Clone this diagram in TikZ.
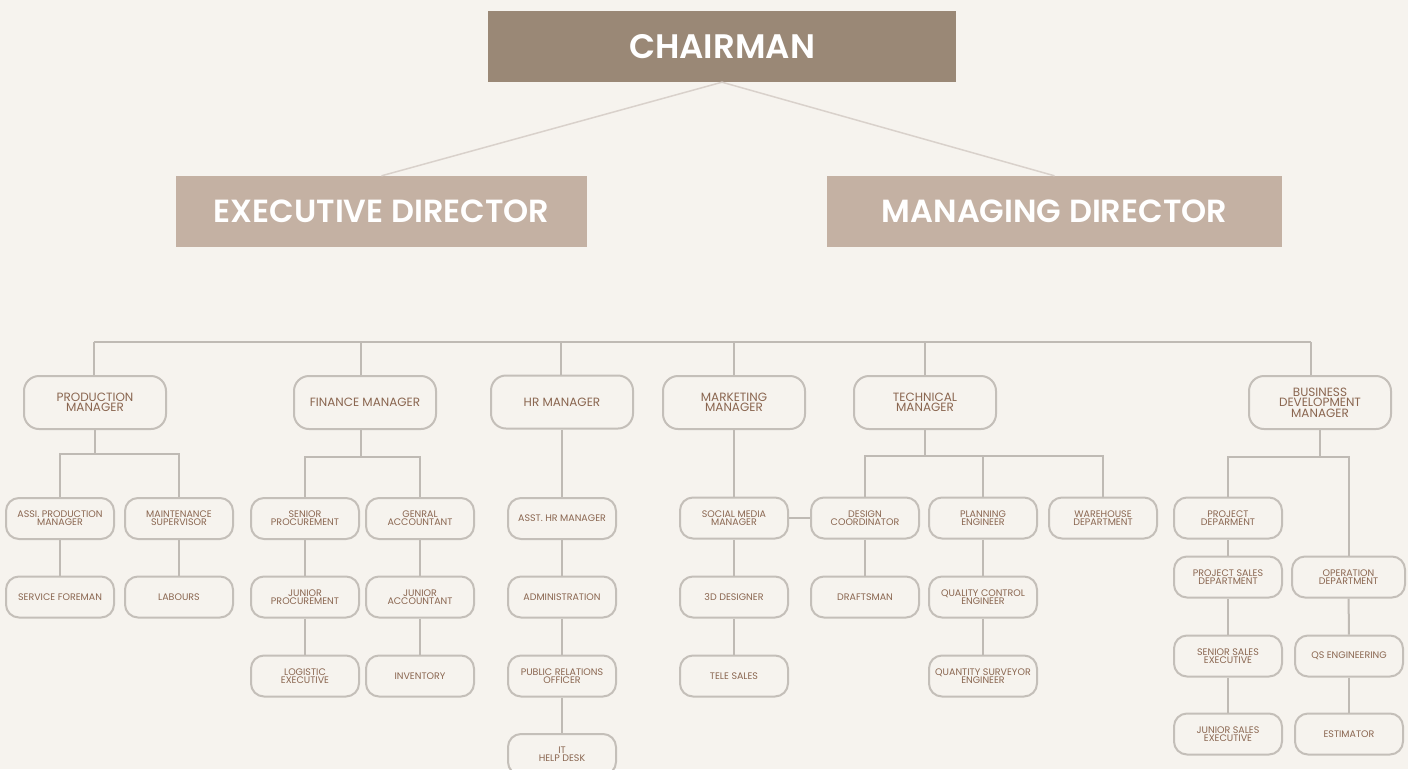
\documentclass[tikz,border=0pt]{standalone}
\usepackage{fontspec}
\setmainfont{Poppins}
\newfontfamily\headfont{Poppins SemiBold}
\definecolor{paper}{HTML}{F6F3EE}
\definecolor{chairbrown}{HTML}{9A8876}
\definecolor{dirbrown}{HTML}{C4B1A3}
\definecolor{labelbrown}{HTML}{8A6650}
\definecolor{boxline}{HTML}{C4BFB9}
\definecolor{linegray}{HTML}{BFBAB4}
\definecolor{toplinegray}{HTML}{D9D1CB}

\tikzset{
  head/.style={fill=#1, text=white, inner sep=0pt, align=center},
  mgr/.style={draw=boxline, line width=2pt, rounded corners=15pt, minimum width=142pt,
    minimum height=53pt, inner sep=0pt, align=center, text=labelbrown,
    font=\fontsize{12}{10.5}\selectfont},
  role/.style={mgr, rounded corners=13pt, minimum width=108pt, minimum height=41pt,
    font=\fontsize{9.5}{8}\selectfont},
  link/.style={draw=linegray, line width=2pt},
  toplink/.style={draw=toplinegray, line width=1.5pt}
}

\begin{document}
\begin{tikzpicture}[x=1pt,y=-1pt]
    \fill[paper] (0,0) rectangle (1408,769);
    \useasboundingbox (0,0) rectangle (1408,769);

    % top of the chart
    \node[head=chairbrown, minimum width=468pt, minimum height=71pt,
      font=\headfont\fontsize{34}{34}\selectfont] (chair) at (722,46.5) {CHAIRMAN};
    \node[head=dirbrown, minimum width=411pt, minimum height=71pt,
      font=\headfont\fontsize{32}{32}\selectfont] (exec) at (381.5,211.5) {EXECUTIVE DIRECTOR};
    \node[head=dirbrown, minimum width=455pt, minimum height=71pt,
      font=\headfont\fontsize{32}{32}\selectfont] (md) at (1054.5,211.5) {MANAGING DIRECTOR};
    \draw[toplink] (chair.south) -- (exec.north);
    \draw[toplink] (chair.south) -- (md.north);

    % managers
    \node[mgr] (prod) at (95,402.5) {PRODUCTION\\MANAGER};
    \node[mgr] (fin) at (365,402.5) {FINANCE MANAGER};
    \node[mgr] (hr) at (562,402) {HR MANAGER};
    \node[mgr] (mkt) at (734,402.5) {MARKETING\\MANAGER};
    \node[mgr] (tech) at (925,402.5) {TECHNICAL\\MANAGER};
    \node[mgr] (bdm) at (1320,402.5) {BUSINESS\\DEVELOPMENT\\MANAGER};

    \coordinate (busL) at (94,342);
    \coordinate (busR) at (1311,342);
    \draw[link] (busL) -- (busR);
    \foreach \m/\dx in {prod/-1, fin/-4, hr/-1, mkt/0, tech/0, bdm/-9}
      \draw[link] ([xshift=\dx pt]\m.north) -- ([xshift=\dx pt]\m.north |- busL);

    % production
    \node[role] (asspm) at (60,518.5) {ASSI. PRODUCTION\\MANAGER};
    \node[role] (maint) at (179,518.5) {MAINTENANCE\\SUPERVISOR};
    \node[role] (foreman) at (60,597) {SERVICE FOREMAN};
    \node[role] (labours) at (179,597) {LABOURS};
    \coordinate (prodfork) at ([yshift=-24pt]prod.south);
    \draw[link] (prod.south) -- (prodfork);
    \draw[link] (asspm.north) |- (prodfork) -| (maint.north);
    \draw[link] (asspm) -- (foreman);
    \draw[link] (maint) -- (labours);

    % finance
    \node[role] (srproc) at (305,518.5) {SENIOR\\PROCUREMENT};
    \node[role] (genacc) at (420,518.5) {GENRAL\\ACCOUNTANT};
    \node[role] (jrproc) at (305,597) {JUNIOR\\PROCUREMENT};
    \node[role] (jracc) at (420,597) {JUNIOR\\ACCOUNTANT};
    \node[role] (logistic) at (305,676) {LOGISTIC\\EXECUTIVE};
    \node[role] (inventory) at (420,676) {INVENTORY};
    \coordinate (finfork) at ([xshift=-4pt,yshift=-27pt]fin.south);
    \draw[link] ([xshift=-4pt]fin.south) -- (finfork);
    \draw[link] (srproc.north) |- (finfork) -| (genacc.north);
    \draw[link] (srproc) -- (jrproc);
    \draw[link] (jrproc) -- (logistic);
    \draw[link] (genacc) -- (jracc);
    \draw[link] (jracc) -- (inventory);

    % hr
    \node[role] (asthr) at (562,518.5) {ASST. HR MANAGER};
    \node[role] (admin) at (562,597) {ADMINISTRATION};
    \node[role] (pro) at (562,676) {PUBLIC RELATIONS\\OFFICER};
    \node[role] (it) at (562,754.5) {IT\\HELP DESK};
    \draw[link] (hr) -- (asthr);
    \draw[link] (asthr) -- (admin);
    \draw[link] (admin) -- (pro);
    \draw[link] (pro) -- (it);

    % marketing
    \node[role] (social) at (734,518) {SOCIAL MEDIA\\MANAGER};
    \node[role] (design3d) at (734,597) {3D DESIGNER};
    \node[role] (tele) at (734,676) {TELE SALES};
    \draw[link] (mkt) -- (social);
    \draw[link] (social) -- (design3d);
    \draw[link] (design3d) -- (tele);

    % technical
    \node[role] (design) at (865,518) {DESIGN\\COORDINATOR};
    \node[role] (planning) at (983,518) {PLANNING\\ENGINEER};
    \node[role] (warehouse) at (1103,518) {WAREHOUSE\\DEPARTMENT};
    \node[role] (drafts) at (865,597) {DRAFTSMAN};
    \node[role] (qc) at (983,597) {QUALITY CONTROL\\ENGINEER};
    \node[role] (qs) at (983,676) {QUANTITY SURVEYOR\\ENGINEER};
    \coordinate (techfork) at ([yshift=-26pt]tech.south);
    \draw[link] (tech.south) -- (techfork);
    \draw[link] (design.north) |- (techfork) -| (warehouse.north);
    \draw[link] (planning.north) -- (planning.north |- techfork);
    \draw[link] (social.east) -- (design.west);
    \draw[link] (design) -- (drafts);
    \draw[link] (planning) -- (qc);
    \draw[link] (qc) -- (qs);

    % business development
    \node[role] (projdep) at (1228,518) {PROJECT\\DEPARMENT};
    \node[role] (projsales) at (1228,577) {PROJECT SALES\\DEPARTMENT};
    \node[role] (srsales) at (1228,656) {SENIOR SALES\\EXECUTIVE};
    \node[role] (jrsales) at (1228,734) {JUNIOR SALES\\EXECUTIVE};
    \node[role, minimum width=113pt] (operation) at (1348.5,577) {OPERATION\\DEPARTMENT};
    \node[role] (qseng) at (1349,656) {QS ENGINEERING};
    \node[role] (estimator) at (1349,734) {ESTIMATOR};
    \coordinate (bdmfork) at ([yshift=-27pt]bdm.south);
    \draw[link] (bdm.south) -- (bdmfork);
    \draw[link] (projdep.north) |- (bdmfork) -| (operation.north);
    \draw[link] (projdep) -- (projsales);
    \draw[link] (projsales) -- (srsales);
    \draw[link] (srsales) -- (jrsales);
    \draw[link] (operation) -- (qseng);
    \draw[link] (qseng) -- (estimator);
\end{tikzpicture}
\end{document}
